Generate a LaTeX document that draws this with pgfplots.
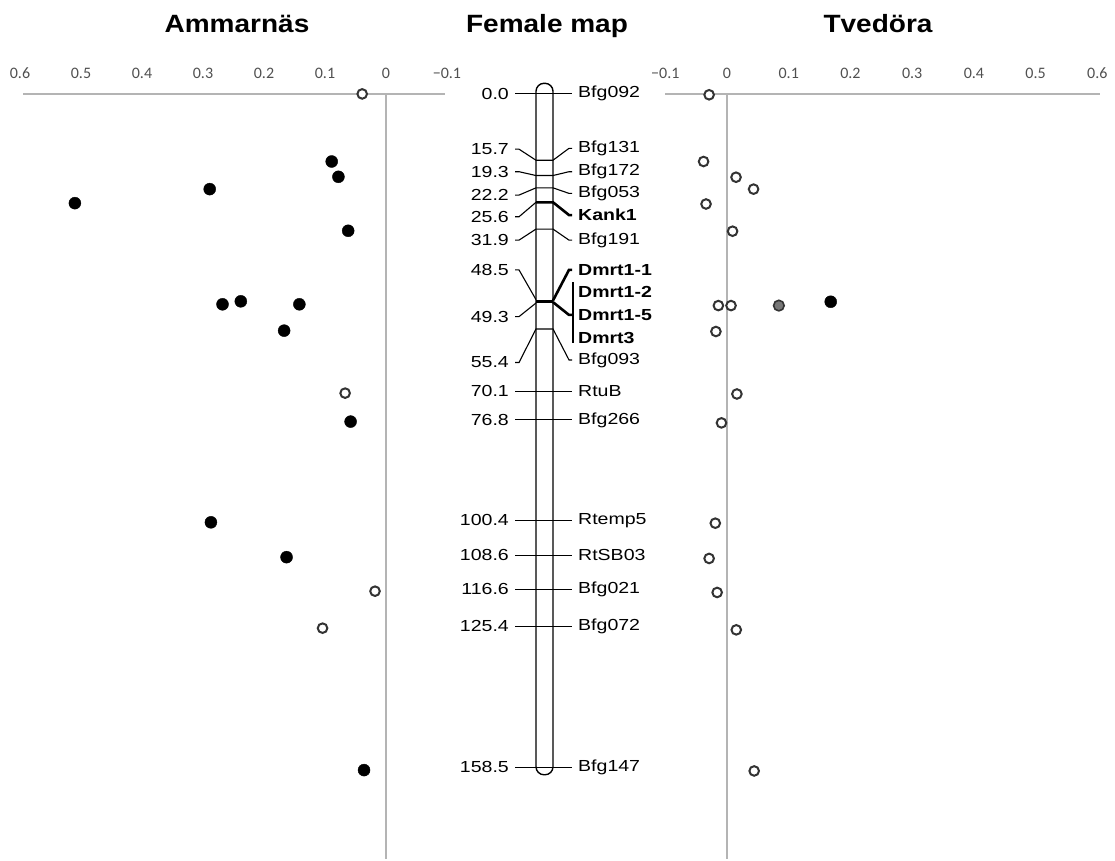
\documentclass[border=0pt]{standalone}
\usepackage{pgfplots}
\pgfplotsset{compat=1.18}
\usepackage{fontspec}
\setmainfont{Liberation Sans}
\newfontfamily\labfont[FakeStretch=1.22]{Liberation Sans}
\newfontfamily\titfont[FakeStretch=1.12]{Liberation Sans}
\newfontfamily\tickfont{Carlito}
\definecolor{axgray}{HTML}{B4B4B4}
\definecolor{tickgray}{HTML}{505050}
\definecolor{ringgray}{HTML}{333333}
\definecolor{midgray}{HTML}{777777}
\newcommand{\tl}[1]{\mbox{\tickfont\fontsize{16}{18}\selectfont #1}}
\pgfplotsset{
  side/.style={
    scale only axis, anchor=north west, clip=false,
    height=765.5pt, ymin=0, ymax=180.12, y dir=reverse,
    axis line style={draw=none}, ytick=\empty,
    xtick={-0.1,0,0.1,0.2,0.3,0.4,0.5,0.6},
    xticklabels={\tl{−0.1},\tl{0},\tl{0.1},\tl{0.2},\tl{0.3},\tl{0.4},\tl{0.5},\tl{0.6}},
    major tick length=0pt,
    xticklabel pos=upper,
    xticklabel shift=11pt,
    xticklabel style={text=tickgray},
  },
  filled/.style={only marks, mark=*, mark size=6pt, mark options={fill=black, draw=black}},
  open/.style={only marks, mark=*, mark size=4.8pt, mark options={fill=white, draw=ringgray, line width=2pt}},
  greyd/.style={only marks, mark=*, mark size=5.3pt, mark options={fill=midgray, draw=ringgray, line width=1.6pt}},
  axln/.style={axgray, line width=2pt},
  mapln/.style={black, line width=1.1pt},
  mapbold/.style={black, line width=2.6pt},
}
\begin{document}
\begin{tikzpicture}
\path (0pt,0pt) rectangle (1115pt,859pt);
% titles
\node[anchor=base, font=\titfont\bfseries\fontsize{25}{28}\selectfont] at (237pt,826pt) {Ammarnäs};
\node[anchor=base, font=\titfont\bfseries\fontsize{25}{28}\selectfont] at (547pt,826pt) {Female map};
\node[anchor=base, font=\titfont\bfseries\fontsize{25}{28}\selectfont] at (878pt,826pt) {Tvedöra};

% ---------------- Ammarnäs ----------------
\begin{axis}[side, at={(20pt,765.5pt)}, width=427pt, xmin=-0.1, xmax=0.6, x dir=reverse]
\addplot[axln] coordinates {(0.595,0) (-0.097,0)};
\addplot[axln] coordinates {(0,0) (0,180.12)};
\addplot[open] coordinates {(0.039,0.1) (0.067,70.5) (0.018,117.1) (0.104,125.8)};
\addplot[filled] coordinates {
(0.089,16.0) (0.078,19.6) (0.289,22.5) (0.510,25.8) (0.062,32.3)
(0.268,49.6) (0.238,48.9) (0.142,49.6) (0.167,55.8)
(0.058,77.2) (0.287,100.9) (0.163,109.1) (0.036,159.2)};
\end{axis}

% ---------------- Tvedöra ----------------
\begin{axis}[side, at={(665.3pt,765.5pt)}, width=432pt, xmin=-0.1, xmax=0.6]
\addplot[axln] coordinates {(-0.1,0) (0.605,0)};
\addplot[axln] coordinates {(0,0) (0,180.12)};
\addplot[open] coordinates {
(-0.029,0.3) (-0.038,16.0) (0.0146,19.7) (0.043,22.5) (-0.034,26.0) (0.009,32.4)
(-0.014,49.9) (0.0065,49.9) (-0.018,56.0)
(0.016,70.7) (-0.009,77.5) (-0.019,101.1) (-0.029,109.4) (-0.016,117.4) (0.015,126.2) (0.044,159.4)};
\addplot[greyd] coordinates {(0.084,49.9)};
\addplot[filled] coordinates {(0.168,49.0)};
\end{axis}

% ---------------- Female map ----------------
\begin{axis}[scale only axis, anchor=north west, at={(440pt,765.5pt)}, width=220pt, height=765.5pt,
  xmin=440, xmax=660, ymin=0, ymax=180.12, y dir=reverse, hide axis, clip=false]
\draw[black, line width=1.4pt, rounded corners=8pt] (axis cs:536,-2.4) rectangle (axis cs:553,160.3);
% straight markers
\addplot[mapln] coordinates {(515,0) (572,0)};
\addplot[mapln] coordinates {(515,70.1) (572,70.1)};
\addplot[mapln] coordinates {(515,76.8) (572,76.8)};
\addplot[mapln] coordinates {(515,100.4) (572,100.4)};
\addplot[mapln] coordinates {(515,108.6) (572,108.6)};
\addplot[mapln] coordinates {(515,116.6) (572,116.6)};
\addplot[mapln] coordinates {(515,125.4) (572,125.4)};
\addplot[mapln] coordinates {(515,158.5) (572,158.5)};
% angled markers
\addplot[mapln] coordinates {(515,13.1) (519,13.1) (536,15.7) (553,15.7) (569,12.9) (572,12.9)};
\addplot[mapln] coordinates {(515,18.4) (519,18.4) (536,19.3) (553,19.3) (569,18.4) (572,18.4)};
\addplot[mapln] coordinates {(515,23.9) (519,23.9) (536,22.2) (553,22.2) (569,23.5) (572,23.5)};
\addplot[mapln] coordinates {(515,29.0) (519,29.0) (536,25.6)};
\addplot[mapbold] coordinates {(536,25.6) (553,25.6) (569,28.6) (572,28.6)};
\addplot[mapln] coordinates {(515,34.5) (519,34.5) (536,31.9) (553,31.9) (569,34.5) (572,34.5)};
\addplot[mapln] coordinates {(515,41.5) (519,41.5) (536,48.5)};
\addplot[mapln] coordinates {(515,52.5) (519,52.5) (536,49.3)};
\addplot[mapbold] coordinates {(536,48.9) (553,48.9)};
\addplot[mapbold] coordinates {(553,48.7) (569,41.5) (572,41.5)};
\addplot[mapbold] coordinates {(553,49.1) (569,52.1) (572,52.1)};
\addplot[mapln] coordinates {(573,44.4) (573,58.7)};
\addplot[mapln] coordinates {(515,63.3) (519,63.3) (536,55.4) (553,55.4) (569,62.7) (572,62.7)};
% left labels
\begin{scope}[every node/.style={font=\labfont\fontsize{16}{18}\selectfont, inner sep=0pt}]
\node[anchor=east] at (axis cs:509,0) {0.0};
\node[anchor=east] at (axis cs:509,13.1) {15.7};
\node[anchor=east] at (axis cs:509,18.4) {19.3};
\node[anchor=east] at (axis cs:509,23.9) {22.2};
\node[anchor=east] at (axis cs:509,29.0) {25.6};
\node[anchor=east] at (axis cs:509,34.5) {31.9};
\node[anchor=east] at (axis cs:509,41.5) {48.5};
\node[anchor=east] at (axis cs:509,52.5) {49.3};
\node[anchor=east] at (axis cs:509,63.3) {55.4};
\node[anchor=east] at (axis cs:509,70.1) {70.1};
\node[anchor=east] at (axis cs:509,76.8) {76.8};
\node[anchor=east] at (axis cs:509,100.4) {100.4};
\node[anchor=east] at (axis cs:509,108.6) {108.6};
\node[anchor=east] at (axis cs:509,116.6) {116.6};
\node[anchor=east] at (axis cs:509,125.4) {125.4};
\node[anchor=east] at (axis cs:509,158.5) {158.5};
% right labels
\node[anchor=west] at (axis cs:578,0) {Bfg092};
\node[anchor=west] at (axis cs:578,12.9) {Bfg131};
\node[anchor=west] at (axis cs:578,18.4) {Bfg172};
\node[anchor=west] at (axis cs:578,23.5) {Bfg053};
\node[anchor=west] at (axis cs:578,28.6) {\bfseries Kank1};
\node[anchor=west] at (axis cs:578,34.5) {Bfg191};
\node[anchor=west] at (axis cs:578,41.5) {\bfseries Dmrt1-1};
\node[anchor=west] at (axis cs:578,46.6) {\bfseries Dmrt1-2};
\node[anchor=west] at (axis cs:578,52.1) {\bfseries Dmrt1-5};
\node[anchor=west] at (axis cs:578,57.6) {\bfseries Dmrt3};
\node[anchor=west] at (axis cs:578,62.7) {Bfg093};
\node[anchor=west] at (axis cs:578,70.1) {RtuB};
\node[anchor=west] at (axis cs:578,76.8) {Bfg266};
\node[anchor=west] at (axis cs:578,100.4) {Rtemp5};
\node[anchor=west] at (axis cs:578,108.6) {RtSB03};
\node[anchor=west] at (axis cs:578,116.6) {Bfg021};
\node[anchor=west] at (axis cs:578,125.4) {Bfg072};
\node[anchor=west] at (axis cs:578,158.5) {Bfg147};
\end{scope}
\end{axis}
\end{tikzpicture}
\end{document}
